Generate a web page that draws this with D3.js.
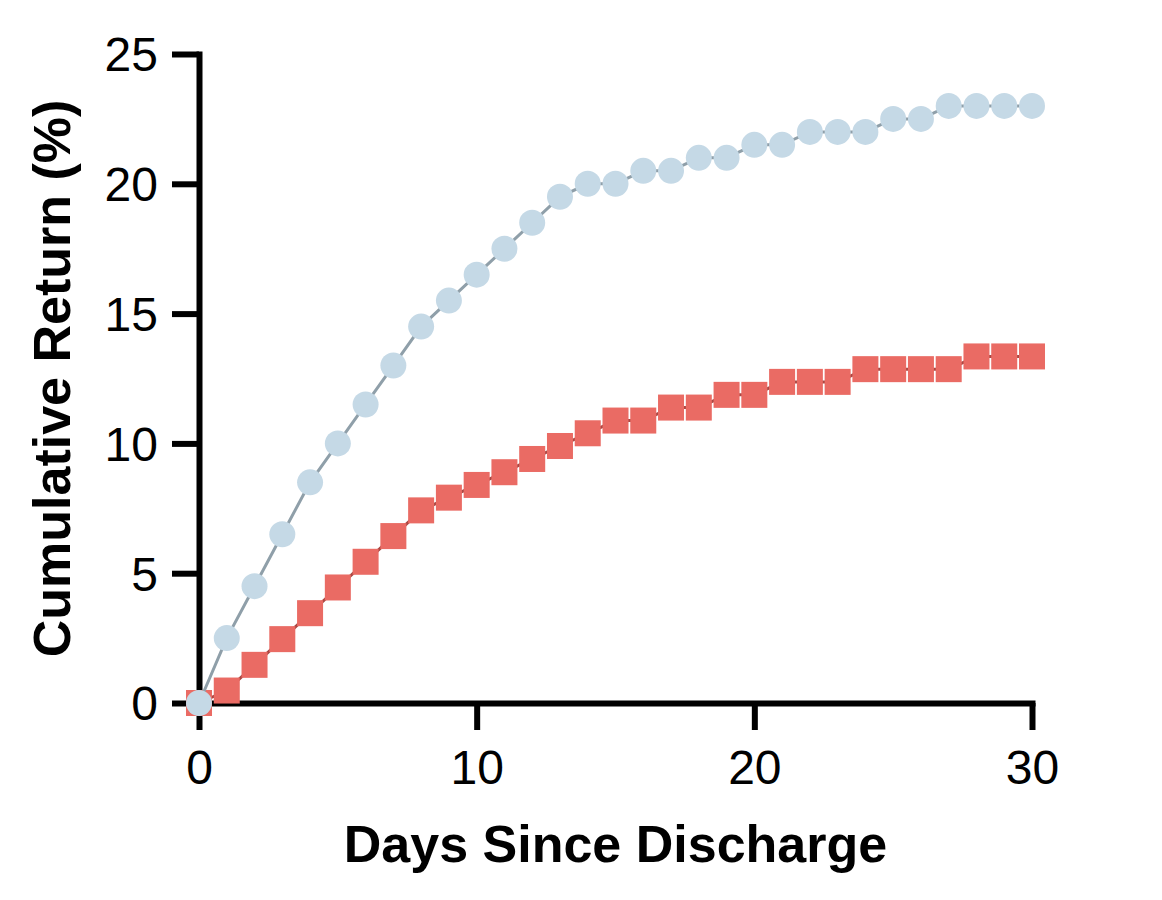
<!DOCTYPE html>
<html>
<head>
<meta charset="utf-8">
<script src="https://cdn.jsdelivr.net/npm/d3@7"></script>
<style>
body{margin:0;background:#fff;}
text{font-family:"Liberation Sans",Arial,sans-serif;}
</style>
</head>
<body>
<div id="chart"></div>
<script>
// data
var days = d3.range(0, 31);
var blueVals = [0, 2.5, 4.5, 6.5, 8.5, 10.0, 11.5, 13.0, 14.5, 15.5, 16.5, 17.5, 18.5, 19.5, 20.0, 20.0,
                20.5, 20.5, 21.0, 21.0, 21.5, 21.5, 22.0, 22.0, 22.0, 22.5, 22.5, 23.0, 23.0, 23.0, 23.0];
var redVals = [0, 0.48, 1.47, 2.46, 3.46, 4.45, 5.44, 6.43, 7.42, 7.91, 8.4, 8.89, 9.4, 9.9, 10.39, 10.88,
               10.88, 11.38, 11.38, 11.87, 11.87, 12.37, 12.37, 12.37, 12.86, 12.86, 12.86, 12.86, 13.35, 13.35, 13.35];
var xTicks = [0, 10, 20, 30];
var yTicks = [0, 5, 10, 15, 20, 25];

var W = 1162, H = 900;
var margin = {top: 54, right: 130, bottom: 197, left: 199};
var w = W - margin.left - margin.right; // 833
var h = H - margin.top - margin.bottom; // 649

var svg = d3.select('#chart').append('svg')
    .attr('width', W)
    .attr('height', H);
var g = svg.append('g')
    .attr('transform', 'translate(' + margin.left + ',' + margin.top + ')');

var xScale = d3.scaleLinear().domain([0, 30]).range([0, w]);
var yScale = d3.scaleLinear().domain([0, 25]).range([h, 0]);

// axes
var xAxis = d3.axisBottom(xScale).tickValues(xTicks).tickSize(27).tickPadding(20).tickSizeOuter(0);
var yAxis = d3.axisLeft(yScale).tickValues(yTicks).tickSize(27).tickPadding(14).tickSizeOuter(0);

var gx = g.append('g')
    .attr('transform', 'translate(0,' + h + ')')
    .call(xAxis);
var gy = g.append('g').call(yAxis);

[gx, gy].forEach(function(a){
    a.select('.domain').attr('stroke', '#000').attr('stroke-width', 6).attr('stroke-linecap', 'square');
    a.selectAll('.tick line').attr('stroke', '#000').attr('stroke-width', 6);
    a.selectAll('.tick text').attr('fill', '#000').style('font-size', '48px')
        .style('font-family', '"Liberation Sans",Arial,sans-serif');
});
gy.selectAll('.tick text').attr('dy', '0.35em');

// axis titles
svg.append('text')
    .attr('x', margin.left + w / 2)
    .attr('y', 862)
    .attr('text-anchor', 'middle')
    .style('font-size', '52px')
    .style('font-weight', 'bold')
    .text('Days Since Discharge');

svg.append('text')
    .attr('transform', 'translate(70,' + (margin.top + h / 2) + ') rotate(-90)')
    .attr('text-anchor', 'middle')
    .style('font-size', '52px')
    .style('font-weight', 'bold')
    .text('Cumulative Return (%)');

var line = d3.line()
    .x(function(d){ return xScale(d.x); })
    .y(function(d){ return yScale(d.y); });

// red series (squares)
var redData = days.map(function(d, i){ return {x: d, y: redVals[i]}; });
g.append('path')
    .attr('d', line(redData))
    .attr('fill', 'none')
    .attr('stroke', '#a94843')
    .attr('stroke-width', 3);
var sq = 26;
g.selectAll('rect.red')
    .data(redData)
    .enter()
    .append('rect')
    .attr('class', 'red')
    .attr('x', function(d){ return xScale(d.x) - sq / 2; })
    .attr('y', function(d){ return yScale(d.y) - sq / 2; })
    .attr('width', sq)
    .attr('height', sq)
    .attr('fill', '#ea6b64');

// blue series (circles)
var blueData = days.map(function(d, i){ return {x: d, y: blueVals[i]}; });
g.append('path')
    .attr('d', line(blueData))
    .attr('fill', 'none')
    .attr('stroke', '#8f9fa9')
    .attr('stroke-width', 3);
g.selectAll('circle.blue')
    .data(blueData)
    .enter()
    .append('circle')
    .attr('class', 'blue')
    .attr('cx', function(d){ return xScale(d.x); })
    .attr('cy', function(d){ return yScale(d.y); })
    .attr('r', 13)
    .attr('fill', '#c5d9e6');
</script>
</body>
</html>
